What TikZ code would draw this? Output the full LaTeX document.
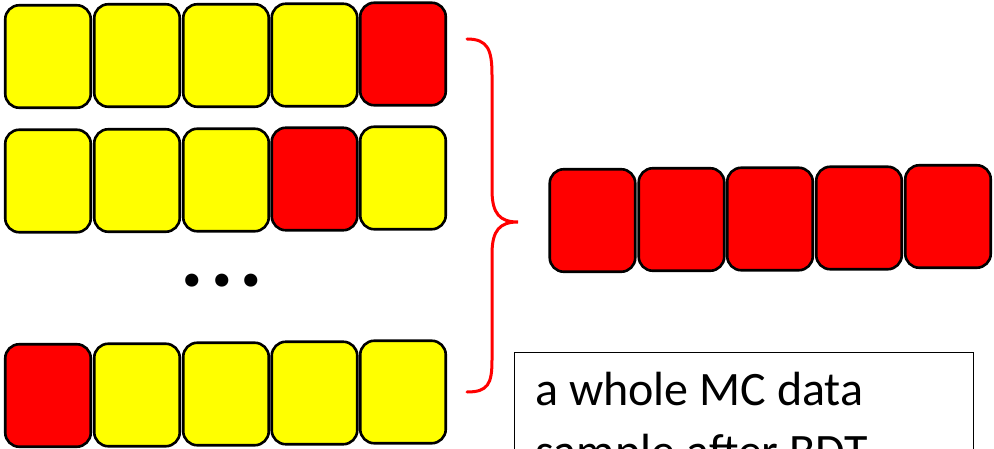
\documentclass[tikz,border=0pt]{standalone}
\usepackage{fontspec}
\setmainfont{Carlito}
\definecolor{cellred}{RGB}{255,0,0}
\definecolor{cellyellow}{RGB}{255,255,0}
\begin{document}
\begin{tikzpicture}[x=1pt,y=-1pt,
  cell/.style={draw=black, line width=2.6pt, rounded corners=14pt,
    minimum width=85.5pt, minimum height=102.5pt, inner sep=0pt},
  sig/.style={cell, fill=cellred},
  bkg/.style={cell, fill=cellyellow},
  bracepath/.style={draw=cellred, line width=3pt, line cap=round}]
\useasboundingbox (0,0) rectangle (994,449);
\clip (0,0) rectangle (994,449);

% first sample
\node[bkg] (a1) at (48,56.5) {};
\node[bkg] (a2) at (137,55.5) {};
\node[bkg] (a3) at (226,55.5) {};
\node[bkg] (a4) at (314.5,55) {};
\node[sig] (a5) at (403,54) {};

% second sample
\node[bkg] (b1) at (48,181) {};
\node[bkg] (b2) at (137,180.5) {};
\node[bkg] (b3) at (226,180) {};
\node[sig] (b4) at (314.5,179) {};
\node[bkg] (b5) at (403,178) {};

% more samples
\node[font=\bfseries\fontsize{88}{88}\selectfont, inner sep=0pt, anchor=base]
  (dots) at (222,287) {.\hspace{6pt}.\hspace{6pt}.};

% last sample
\node[sig] (c1) at (48,395.5) {};
\node[bkg] (c2) at (137,395) {};
\node[bkg] (c3) at (226,394) {};
\node[bkg] (c4) at (314.5,393) {};
\node[bkg] (c5) at (403,392) {};

% curly brace grouping the samples
\coordinate (bt) at (467,39);
\coordinate (bm) at (518,222);
\coordinate (bb) at (467,392);
\path[bracepath] (bt) .. controls (488,39) and (492,50) .. (492,75)
  -- (492,190) .. controls (492,214) and (500,222) .. (bm)
  .. controls (500,222) and (492,230) .. (492,254)
  -- (492,360) .. controls (492,384) and (488,392) .. (bb);

% merged sample
\node[sig] (d1) at (592.5,220.5) {};
\node[sig] (d2) at (681.5,219.5) {};
\node[sig] (d3) at (770,219) {};
\node[sig] (d4) at (859,218) {};
\node[sig] (d5) at (948,216.5) {};

% caption box
\node[draw=black, line width=1.3pt, fill=white, anchor=north west,
  minimum width=459pt, minimum height=150pt, inner sep=0pt] (note) at (514,352) {};
\node[anchor=base west, inner sep=0pt, align=left,
  font=\fontsize{48}{62}\selectfont] (notetext) at (535,467)
  {a whole MC data\\sample after BDT};
\end{tikzpicture}
\end{document}
